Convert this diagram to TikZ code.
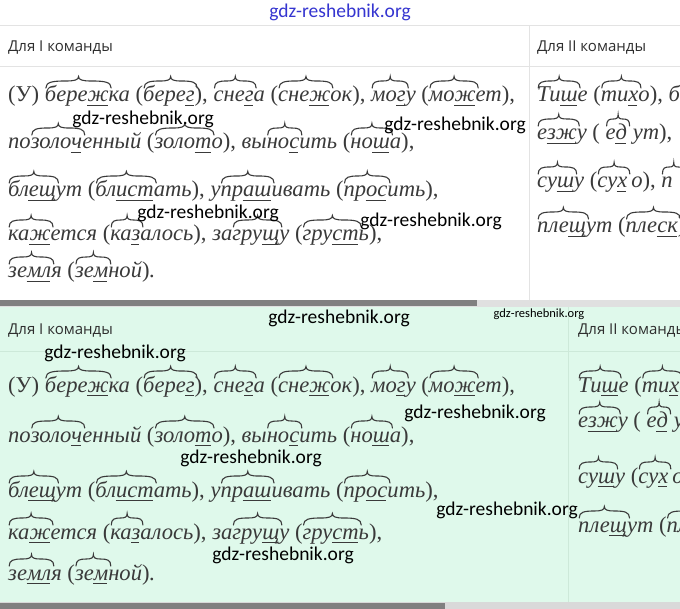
\documentclass[tikz,border=0pt]{standalone}
\usepackage{fontspec}
\setmainfont{Liberation Serif}
\newfontfamily\wmfont{Carlito}
\newfontfamily\hdfont{Open Sans}
\usetikzlibrary{calc}
\definecolor{txt}{HTML}{3A3A3A}
\definecolor{hdrc}{HTML}{2E2E2E}
\definecolor{mint}{HTML}{DFF9EB}
\definecolor{mintline}{HTML}{CDE9D9}
\definecolor{wmblue}{HTML}{3535D0}
\tikzset{
  wmark/.style={font=\wmfont\fontsize{19.5pt}{21pt}\selectfont, text=black, inner sep=0pt},
  wsmall/.style={font=\wmfont\fontsize{12.5pt}{14pt}\selectfont, text=black, inner sep=0pt},
  hdr/.style={font=\hdfont\fontsize{15pt}{17pt}\selectfont, text=hdrc, anchor=base west, inner sep=0pt},
  rusline/.style={font=\fontsize{22.6pt}{26pt}\selectfont\itshape, text=txt, anchor=base west, inner sep=0pt},
  arcmark/.style={line width=1.1pt, draw=txt, line cap=round},
  ulmark/.style={line width=1.2pt, draw=txt, overlay},
  gridline/.style={draw=black!11, line width=1pt},
}
\newcommand\rt[1]{\tikz[baseline=(r.base)]{\node[inner sep=0pt,outer sep=0pt,anchor=base](r){#1};
\begin{scope}[overlay]
\coordinate (ra) at ([xshift=1pt,yshift=14pt]r.base west);
\coordinate (rd) at ([xshift=2.5pt,yshift=14pt]r.base east);
\draw[arcmark] (ra) .. controls ([yshift=6pt]ra) and ($(ra)!0.1!(rd)+(0pt,7pt)$) .. ($(ra)!0.3!(rd)+(0pt,7pt)$)
 .. controls ($(ra)!0.44!(rd)+(0pt,7pt)$) and ($(ra)!0.5!(rd)+(0pt,8pt)$) .. ($(ra)!0.5!(rd)+(0pt,11.5pt)$)
 .. controls ($(ra)!0.5!(rd)+(0pt,8pt)$) and ($(ra)!0.56!(rd)+(0pt,7pt)$) .. ($(ra)!0.7!(rd)+(0pt,7pt)$)
 .. controls ($(ra)!0.9!(rd)+(0pt,7pt)$) and ([yshift=6pt]rd) .. (rd);
\end{scope}}}
\newcommand\ul[1]{\tikz[baseline=(u.base)]{\node[inner sep=0pt,outer sep=0pt,anchor=base](u){#1};\draw[ulmark]([xshift=-0.5pt,yshift=-3.5pt]u.base west)--([xshift=-1pt,yshift=-3.5pt]u.base east);}}
\newcommand\op{\textup{(}}
\newcommand\cp{\textup{)}}
\newcommand\cm{\textup{,}}
\newcommand\LA{\op\textup{У}\cp{} \rt{бере\ul{ж}}ка \op\rt{бере\ul{г}}\cp\cm{} \rt{сне\ul{г}}а \op\rt{сне\ul{ж}}ок\cp\cm{} \rt{мо\ul{г}}у \op\rt{мо\ul{ж}}ет\cp\cm}
\newcommand\LB{по\rt{золо\ul{ч}}енный \op\rt{золо\ul{т}}о\cp\cm{} вы\rt{но\ul{с}}ить \op\rt{но\ul{ш}}а\cp\cm}
\newcommand\LC{\rt{бл\ul{ещ}}ут \op\rt{бл\ul{ист}}ать\cp\cm{} у\rt{пр\ul{аш}}ивать \op\rt{пр\ul{ос}}ить\cp\cm}
\newcommand\LD{\rt{ка\ul{ж}}ется \op\rt{ка\ul{з}}алось\cp\cm{} за\rt{гру\ul{щ}}у \op\rt{гру\ul{ст}}ь\cp\cm}
\newcommand\LE{\rt{зе\ul{мл}}я \op\rt{зе\ul{м}}ной\cp.}
\newcommand\RA{\rt{Ти\ul{ш}}е \op\rt{ти\ul{х}}о\cp\cm{} б}
\newcommand\RB{\rt{е\ul{зж}}у \op{} \rt{е\ul{д}} ут\cp\cm}
\newcommand\RC{\rt{су\ul{ш}}у \op\rt{су\ul{х}}\hspace{4pt}о\cp\cm{} \rt{п\phantom{л}}}
\newcommand\RD{\rt{пле\ul{щ}}ут \op\rt{пле\ul{ск}}\cp}
\begin{document}
\begin{tikzpicture}[x=1pt,y=-1pt]
\useasboundingbox (0,0) rectangle (680,609);
\begin{scope}
\clip (0,0) rectangle (680,609);
% backgrounds
\fill[white] (0,0) rectangle (680,300);
\fill[mint] (0,307) rectangle (680,609);
% top panel grid
\draw[gridline] (0,26) -- (680,26);
\draw[gridline] (0,67) -- (680,67);
\draw[gridline] (529,26) -- (529,300);
% bottom panel grid
\draw[draw=mintline, line width=1pt] (0,352) -- (680,352);
\draw[draw=mintline, line width=1pt] (568,307) -- (568,602);
% scroll bars
\fill[black!12] (0,300) rectangle (680,307);
\fill[black!50] (0,300) rectangle (477,306);
\fill[black!15] (0,602) rectangle (680,609);
\fill[black!50] (0,603) rectangle (445,609);
% headers
\node[hdr] (h1) at (8,52) {Для I команды};
\node[hdr] (h2) at (537,52) {Для II команды};
\node[hdr] (h3) at (8,335) {Для I команды};
\node[hdr] (h4) at (578,335) {Для II команды};
% top panel text
\node[rusline] (ta) at (8,102) {\LA};
\node[rusline] (tb) at (8,149) {\LB};
\node[rusline] (tc) at (8,197) {\LC};
\node[rusline] (td) at (8,241) {\LD};
\node[rusline] (te) at (8,278) {\LE};
\node[rusline] (tra) at (537,102) {\RA};
\node[rusline] (trb) at (537,140) {\RB};
\node[rusline] (trc) at (537,188) {\RC};
\node[rusline] (trd) at (537,233) {\RD};
% bottom panel text
\node[rusline] (ba) at (8,392) {\LA};
\node[rusline] (bb) at (8,442) {\LB};
\node[rusline] (bc) at (8,497) {\LC};
\node[rusline] (bd) at (8,539) {\LD};
\node[rusline] (be) at (8,580) {\LE};
\node[rusline] (bra) at (578,392) {\RA};
\node[rusline] (brb) at (578,428) {\RB};
\node[rusline] (brc) at (578,483) {\RC};
\node[rusline] (brd) at (578,532) {\RD};
% watermarks
\node[wmark, text=wmblue] (w0) at (340,12) {gdz-reshebnik.org};
\node[wmark] (w1) at (143,119) {gdz-reshebnik.org};
\node[wmark] (w2) at (455,125) {gdz-reshebnik.org};
\node[wmark] (w3) at (208,213) {gdz-reshebnik.org};
\node[wmark] (w4) at (431,221) {gdz-reshebnik.org};
\node[wmark] (w5) at (339,318) {gdz-reshebnik.org};
\node[wsmall] (w6) at (539,314) {gdz-reshebnik.org};
\node[wmark] (w7) at (115,353) {gdz-reshebnik.org};
\node[wmark] (w8) at (475,413) {gdz-reshebnik.org};
\node[wmark] (w9) at (251,458) {gdz-reshebnik.org};
\node[wmark] (w10) at (507,510) {gdz-reshebnik.org};
\node[wmark] (w11) at (283,555) {gdz-reshebnik.org};
\end{scope}
\end{tikzpicture}
\end{document}
